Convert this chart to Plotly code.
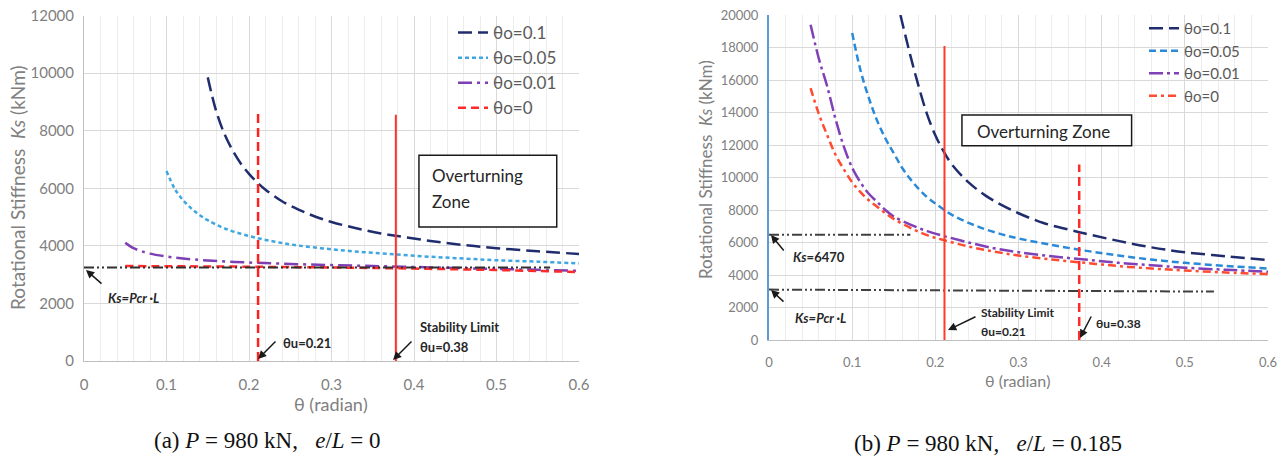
import plotly.graph_objects as go

W, H = 1288, 458

# ---------------- data: chart (a) P=980 kN, e/L=0 ----------------
a_th_01 = [0.15, 0.16, 0.17, 0.18, 0.19, 0.2, 0.21, 0.22, 0.24, 0.26, 0.28, 0.3, 0.33, 0.36, 0.38, 0.42, 0.46, 0.5, 0.55, 0.6]
a_ks_01 = [9850, 8700, 7900, 7320, 6860, 6500, 6200, 5950, 5550, 5260, 5020, 4830, 4610, 4430, 4340, 4170, 4030, 3920, 3810, 3720]
a_th_005 = [0.1, 0.11, 0.12, 0.13, 0.14, 0.15, 0.17, 0.2, 0.23, 0.26, 0.3, 0.34, 0.38, 0.42, 0.46, 0.5, 0.55, 0.6]
a_ks_005 = [6600, 5980, 5590, 5300, 5070, 4890, 4610, 4340, 4150, 4010, 3880, 3780, 3700, 3620, 3560, 3500, 3450, 3390]
a_th_001 = [0.05, 0.06, 0.07, 0.08, 0.1, 0.12, 0.15, 0.2, 0.25, 0.3, 0.35, 0.4, 0.45, 0.5, 0.55, 0.6]
a_ks_001 = [4110, 3920, 3810, 3730, 3630, 3560, 3490, 3420, 3370, 3330, 3300, 3265, 3230, 3200, 3165, 3130]
a_th_0 = [0.05, 0.1, 0.15, 0.2, 0.25, 0.3, 0.35, 0.4, 0.45, 0.5, 0.55, 0.6]
a_ks_0 = [3300, 3290, 3285, 3275, 3262, 3248, 3230, 3210, 3185, 3160, 3125, 3090]
a_pcr_th = [0.0, 0.565]
a_pcr_ks = [3250, 3250]
a_lim1_th = [0.211, 0.211]
a_lim1_ks = [0, 8600]
a_lim2_th = [0.378, 0.378]
a_lim2_ks = [0, 8550]

# ---------------- data: chart (b) P=980 kN, e/L=0.185 ----------------
b_th_01 = [0.158, 0.17, 0.18, 0.19, 0.2, 0.21, 0.22, 0.24, 0.26, 0.28, 0.3, 0.33, 0.36, 0.38, 0.42, 0.46, 0.5, 0.55, 0.6]
b_ks_01 = [20000, 17500, 15600, 13900, 12600, 11600, 10800, 9700, 8900, 8300, 7800, 7200, 6800, 6550, 6100, 5700, 5400, 5150, 4920]
b_th_005 = [0.1, 0.11, 0.12, 0.13, 0.14, 0.15, 0.16, 0.17, 0.18, 0.19, 0.2, 0.22, 0.25, 0.28, 0.3, 0.34, 0.38, 0.42, 0.46, 0.5, 0.55, 0.6]
b_ks_005 = [18900, 16600, 14900, 13500, 12400, 11500, 10600, 9900, 9300, 8800, 8400, 7700, 7000, 6500, 6250, 5850, 5500, 5200, 4950, 4750, 4560, 4400]
b_th_001 = [0.05, 0.06, 0.07, 0.08, 0.09, 0.1, 0.11, 0.12, 0.13, 0.14, 0.15, 0.17, 0.19, 0.21, 0.24, 0.27, 0.3, 0.34, 0.38, 0.42, 0.46, 0.5, 0.55, 0.6]
b_ks_001 = [19400, 17300, 15600, 13600, 11900, 10600, 9700, 9000, 8500, 8000, 7600, 7100, 6700, 6400, 6000, 5650, 5400, 5150, 4950, 4750, 4600, 4450, 4320, 4200]
b_th_0 = [0.05, 0.06, 0.07, 0.08, 0.09, 0.1, 0.11, 0.12, 0.13, 0.14, 0.15, 0.17, 0.19, 0.21, 0.24, 0.27, 0.3, 0.34, 0.38, 0.42, 0.46, 0.5, 0.55, 0.6]
b_ks_0 = [15500, 13900, 12600, 11400, 10500, 9700, 9100, 8600, 8200, 7800, 7450, 6900, 6450, 6150, 5750, 5450, 5200, 4950, 4750, 4550, 4400, 4280, 4150, 4060]
b_ks6470_th = [0.0, 0.17]
b_ks6470_ks = [6470, 6470]
b_pcr_th = [0.0, 0.535]
b_pcr_ks = [3100, 2980]
b_lim1_th = [0.211, 0.211]
b_lim1_ks = [0, 18100]
b_lim2_th = [0.373, 0.373]
b_lim2_ks = [0, 10800]

legend_names = ["θo=0.1", "θo=0.05", "θo=0.01", "θo=0"]


def px(x):
    return x / W


def py(y):
    return 1 - y / H


FONT = "Lato"
NAVY = "#1f2d6e"
fig = go.Figure()

# ---- chart (a) traces ----
a_series = [
    (a_th_01, a_ks_01, NAVY, "14px,6px"),
    (a_th_005, a_ks_005, "#3ea6e0", "4px,3px"),
    (a_th_001, a_ks_001, "#7d3fb3", "14px,5px,3px,5px"),
    (a_th_0, a_ks_0, "#ff2a2a", "8px,5px"),
]
for (xs, ys, col, dash), name in zip(a_series, legend_names):
    fig.add_trace(go.Scatter(x=xs, y=ys, mode="lines", name=name, legend="legend",
                             line=dict(color=col, width=2.5, dash=dash, shape="spline"),
                             xaxis="x", yaxis="y"))
fig.add_trace(go.Scatter(x=a_pcr_th, y=a_pcr_ks, mode="lines", showlegend=False,
                         line=dict(color="#303030", width=2, dash="10px,3px,2px,3px,2px,3px"),
                         xaxis="x", yaxis="y"))
fig.add_trace(go.Scatter(x=a_lim1_th, y=a_lim1_ks, mode="lines", showlegend=False,
                         line=dict(color="#ff2020", width=2.5, dash="9px,5px"), xaxis="x", yaxis="y"))
fig.add_trace(go.Scatter(x=a_lim2_th, y=a_lim2_ks, mode="lines", showlegend=False,
                         line=dict(color="#ff3030", width=2), xaxis="x", yaxis="y"))

# ---- chart (b) traces ----
b_series = [
    (b_th_01, b_ks_01, NAVY, "14px,6px"),
    (b_th_005, b_ks_005, "#2b8ad8", "7px,4px"),
    (b_th_001, b_ks_001, "#8040b8", "14px,4px,3px,4px"),
    (b_th_0, b_ks_0, "#ff4b30", "8px,4px,3px,4px"),
]
for (xs, ys, col, dash), name in zip(b_series, legend_names):
    fig.add_trace(go.Scatter(x=xs, y=ys, mode="lines", name=name, legend="legend2",
                             line=dict(color=col, width=2.5, dash=dash, shape="spline"),
                             xaxis="x2", yaxis="y2"))
for xs, ys in [(b_ks6470_th, b_ks6470_ks), (b_pcr_th, b_pcr_ks)]:
    fig.add_trace(go.Scatter(x=xs, y=ys, mode="lines", showlegend=False,
                             line=dict(color="#404040", width=2, dash="10px,3px,2px,3px,2px,3px"),
                             xaxis="x2", yaxis="y2"))
fig.add_trace(go.Scatter(x=b_lim1_th, y=b_lim1_ks, mode="lines", showlegend=False,
                         line=dict(color="#ff3a2a", width=2), xaxis="x2", yaxis="y2"))
fig.add_trace(go.Scatter(x=b_lim2_th, y=b_lim2_ks, mode="lines", showlegend=False,
                         line=dict(color="#ff2a2a", width=2.5, dash="9px,5px"), xaxis="x2", yaxis="y2"))

tick_col = "#808080"
common_x = dict(range=[0, 0.6], tick0=0, dtick=0.1, showgrid=True, gridcolor="#d9d9d9", gridwidth=1,
                minor=dict(dtick=0.02, showgrid=True, gridcolor="#ededed", gridwidth=1),
                zeroline=False, showline=True, linecolor="#bfbfbf", linewidth=1, automargin=False,
                ticks="", ticklabelstandoff=10, fixedrange=True)
common_y = dict(tick0=0, dtick=2000, tickformat="d", showgrid=True, gridcolor="#d9d9d9", gridwidth=1,
                zeroline=False, ticks="", ticklabelstandoff=6, fixedrange=True, automargin=False)

fig.update_layout(
    width=W, height=H, margin=dict(l=0, r=0, t=0, b=0, autoexpand=False),
    paper_bgcolor="white", plot_bgcolor="white",
    font=dict(family=FONT, color=tick_col),
    xaxis=dict(domain=[px(84), px(579)], anchor="y", tickfont=dict(size=15, color=tick_col), **common_x),
    yaxis=dict(domain=[py(361), py(15.5)], anchor="x", range=[0, 12000],
               tickfont=dict(size=15, color=tick_col), showline=True, linecolor="#bfbfbf", linewidth=1, **common_y),
    xaxis2=dict(domain=[px(769), px(1268)], anchor="y2", tickfont=dict(size=13, color=tick_col), **common_x),
    yaxis2=dict(domain=[py(340), py(15)], anchor="x2", range=[0, 20000],
                tickfont=dict(size=13, color=tick_col), showline=True, linecolor="#5b9bd5", linewidth=2, **common_y),
    legend=dict(x=px(453), y=py(15), xanchor="left", yanchor="top", bgcolor="rgba(0,0,0,0)",
                font=dict(size=17, color="#595959", family=FONT), itemwidth=30, tracegroupgap=0),
    legend2=dict(x=px(1144), y=py(12), xanchor="left", yanchor="top", bgcolor="rgba(0,0,0,0)",
                 font=dict(size=15, color="#595959", family=FONT), itemwidth=30, tracegroupgap=0),
)

# boxes "Overturning Zone"
fig.add_shape(type="rect", xref="x", yref="y", x0=0.406, x1=0.573, y0=4650, y1=7150,
              line=dict(color="#1a1a1a", width=1.5), fillcolor="white", layer="above")
fig.add_shape(type="rect", xref="x2", yref="y2", x0=0.232, x1=0.436, y0=11950, y1=13840,
              line=dict(color="#1a1a1a", width=1.5), fillcolor="white", layer="above")

ann = []


def text(x, y, s, size=13, color="#262626", xanchor="left", fam=FONT, angle=0):
    ann.append(dict(xref="paper", yref="paper", x=px(x), y=py(y), text=s, showarrow=False,
                    xanchor=xanchor, yanchor="middle", textangle=angle,
                    font=dict(size=size, color=color, family=fam)))


def arrow(tail, tip):
    ann.append(dict(xref="paper", yref="paper", x=px(tip[0]), y=py(tip[1]), text="",
                    showarrow=True, axref="pixel", ayref="pixel",
                    ax=tail[0] - tip[0], ay=tail[1] - tip[1],
                    arrowhead=2, arrowsize=1.1, arrowwidth=1.5, arrowcolor="#1a1a1a"))


# chart (a) texts
text(430, 175, "Overturning", size=17)
text(430, 201, "Zone", size=17)
text(106, 298, "<b><i>Ks=Pcr ·L</i></b>", size=13)
arrow((103, 285), (86, 270))
text(281, 343, "<b>θu=0.21</b>", size=13)
arrow((277, 340), (258, 359))
text(418, 327, "<b>Stability Limit</b>", size=13)
text(418, 347, "<b>θu=0.38</b>", size=13)
arrow((413, 340), (393, 360))
text(331, 404, "θ (radian)", size=18, color=tick_col, xanchor="center")
text(17, 188, "Rotational Stiffness  <i>Ks</i> (kNm)", size=19, color=tick_col, xanchor="center", angle=-90)
text(267, 440, "(a) <i>P</i> = 980 kN,   <i>e</i>/<i>L</i> = 0", size=23, color="#111111",
     xanchor="center", fam="Liberation Serif")

# chart (b) texts
text(975, 131, "Overturning Zone", size=17)
text(791, 257, "<b><i>Ks</i>=6470</b>", size=13)
arrow((785, 252), (771, 235))
text(793, 318, "<b><i>Ks=Pcr ·L</i></b>", size=13)
arrow((785, 303), (771, 290))
text(979, 312, "<b>Stability Limit</b>", size=12)
text(979, 331, "<b>θu=0.21</b>", size=12)
arrow((977, 316), (948, 330))
text(1094, 323, "<b>θu=0.38</b>", size=12)
arrow((1092, 315), (1080, 338))
text(1018, 380, "θ (radian)", size=16, color=tick_col, xanchor="center")
text(705, 170, "Rotational Stiffness  <i>Ks</i> (kNm)", size=17, color=tick_col, xanchor="center", angle=-90)
text(988, 443, "(b) <i>P</i> = 980 kN,   <i>e</i>/<i>L</i> = 0.185", size=23, color="#111111",
     xanchor="center", fam="Liberation Serif")

fig.update_layout(annotations=ann)
fig.write_html("out.html")
